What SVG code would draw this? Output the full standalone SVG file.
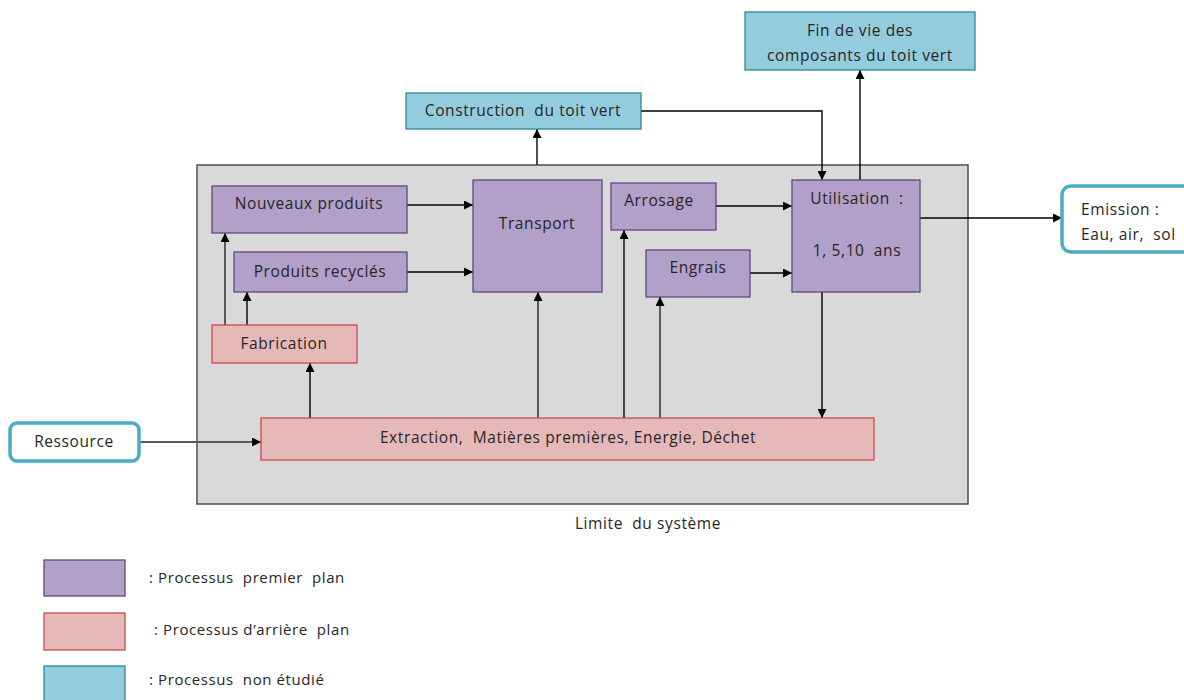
<svg xmlns="http://www.w3.org/2000/svg" width="1184" height="700" viewBox="0 0 1184 700">
<defs>
<marker id="ah" viewBox="0 0 10 10" refX="10" refY="5" markerWidth="9" markerHeight="9" markerUnits="userSpaceOnUse" orient="auto"><path d="M0,0 L10,5 L0,10 z" fill="#000"/></marker>
<style>
text{font-family:"Open Sans","Liberation Sans",Arial,sans-serif;font-size:15.5px;letter-spacing:0.6px;fill:#262626;text-anchor:middle;white-space:pre}
.fg{fill:#b1a0c7;stroke:#5f497a;stroke-width:1.3}
.bg{fill:#e6b9b8;stroke:#c0504d;stroke-width:1.3}
.ns{fill:#93cddd;stroke:#31859c;stroke-width:1.3}
.rb{fill:#fff;stroke:#4bacc6;stroke-width:3.5}
.c{fill:none;stroke:#000;stroke-width:1.4;marker-end:url(#ah)}
.g{fill:none;stroke:#595959;stroke-width:2;marker-end:url(#ah)}
.lg{text-anchor:start;font-size:15px}
</style>
</defs>
<rect width="1184" height="700" fill="#fff"/>
<g id="systeme">
<rect x="197" y="165" width="771" height="339" fill="#d9d9d9" stroke="#4d4d4d" stroke-width="1.5"/>
<text x="648" y="529" font-size="14">Limite  du système</text>
</g>
<g id="connectors">
<path class="c" d="M407,205 H473"/>
<path class="c" d="M407,272 H473"/>
<path class="g" d="M225,325 V233"/>
<path class="c" d="M247,325 V292"/>
<path class="c" d="M310,418 V363"/>
<path class="g" d="M538,418 V292"/>
<path class="c" d="M624,418 V230"/>
<path class="g" d="M660,418 V297"/>
<path class="c" d="M822,292 V418"/>
<path class="c" d="M716,206 H792"/>
<path class="c" d="M750,273 H792"/>
<path class="c" d="M537,165 V129"/>
<path class="c" d="M641,111 H822 V180"/>
<path class="c" d="M860,180 V70"/>
<path class="c" d="M920,218 H1062"/>
<path class="g" d="M139,442 H261"/>
</g>
<g id="nouveaux"><rect class="fg" x="212" y="186" width="195" height="47"/><text x="309" y="209">Nouveaux produits</text></g>
<g id="recycles"><rect class="fg" x="234" y="252" width="173" height="40"/><text x="320" y="277">Produits recyclés</text></g>
<g id="transport"><rect class="fg" x="473" y="180" width="129" height="112"/><text x="537" y="229">Transport</text></g>
<g id="fabrication"><rect class="bg" x="212" y="325" width="145" height="38"/><text x="284" y="349">Fabrication</text></g>
<g id="arrosage"><rect class="fg" x="611" y="183" width="105" height="47"/><text x="659" y="206">Arrosage</text></g>
<g id="engrais"><rect class="fg" x="646" y="250" width="104" height="47"/><text x="698" y="273">Engrais</text></g>
<g id="utilisation"><rect class="fg" x="792" y="180" width="128" height="112"/><text x="857" y="204">Utilisation  :</text><text x="857" y="256">1, 5,10  ans</text></g>
<g id="extraction"><rect class="bg" x="261" y="418" width="613" height="42"/><text x="568" y="443">Extraction,  Matières premières, Energie, Déchet</text></g>
<g id="construction"><rect class="ns" x="406" y="93" width="235" height="36"/><text x="523" y="116">Construction  du toit vert</text></g>
<g id="findevie"><rect class="ns" x="745" y="12" width="230" height="58"/><text x="860" y="36">Fin de vie des</text><text x="860" y="61">composants du toit vert</text></g>
<g id="emission"><rect class="rb" x="1062" y="186" width="130" height="66" rx="9"/><text x="1081" y="215" style="text-anchor:start">Emission :</text><text x="1081" y="240" style="text-anchor:start">Eau, air,  sol</text></g>
<g id="ressource"><rect class="rb" x="10" y="423" width="129" height="38" rx="7"/><text x="74" y="447">Ressource</text></g>
<g id="legende">
<rect class="fg" x="44" y="560" width="81" height="36"/><text class="lg" x="149" y="583">: Processus  premier  plan</text>
<rect class="bg" x="44" y="613" width="81" height="37"/><text class="lg" x="154" y="635">: Processus d’arrière  plan</text>
<rect class="ns" x="44" y="666" width="81" height="36"/><text class="lg" x="149" y="685">: Processus  non étudié</text>
</g>
</svg>
